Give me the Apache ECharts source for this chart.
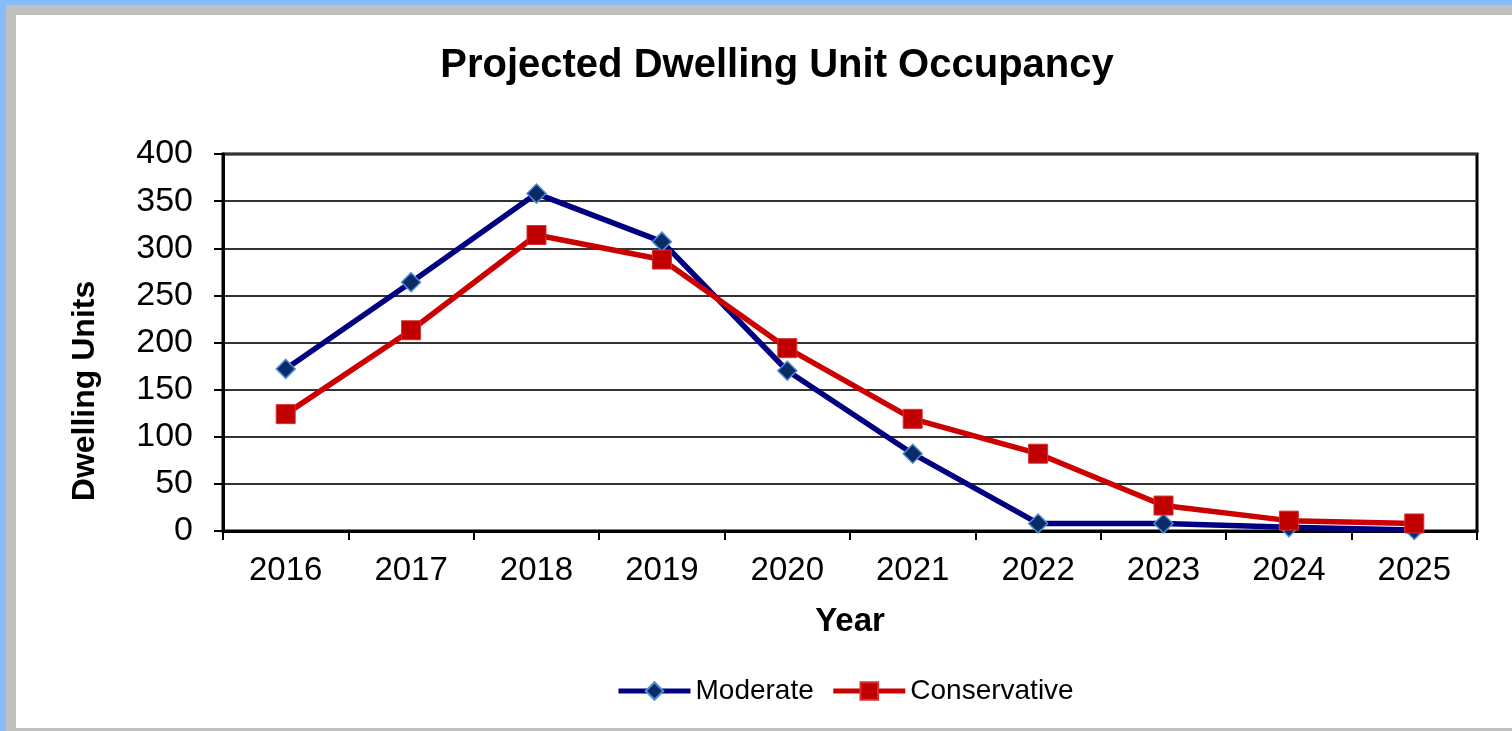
<!DOCTYPE html>
<html>
<head>
<meta charset="utf-8">
<script src="https://cdn.jsdelivr.net/npm/echarts@6/dist/echarts.min.js"></script>
<style>
  html, body { margin: 0; padding: 0; }
  body { width: 1512px; height: 731px; background: #86bcf8; position: relative; overflow: hidden; }
  #frame { position: absolute; left: 6px; top: 5px; width: 1506px; height: 726px; background: #c0c0c0; }
  #chart { position: absolute; left: 16px; top: 15px; width: 1496px; height: 713px; background: #fff; }
</style>
</head>
<body>
<div id="frame"></div>
<div id="chart"></div>
<script>
var years = ['2016', '2017', '2018', '2019', '2020', '2021', '2022', '2023', '2024', '2025'];
var moderate = [172, 264, 358, 307, 170, 82, 8, 8, 4, 1];
var conservative = [124, 213, 314, 288, 194, 119, 82, 27, 11, 8];
var yTicks = { min: 0, max: 400, interval: 50 };

var dom = document.getElementById('chart');
var myChart = echarts.init(dom);
var font = '"Liberation Sans", Arial, sans-serif';

var option = {
    animation: false,
    title: {
        text: 'Projected Dwelling Unit Occupancy',
        left: 756,
        top: 26,
        textAlign: 'center',
        textStyle: { fontFamily: font, fontSize: 40, fontWeight: 'bold', color: '#000' }
    },
    legend: {
        left: 595,
        top: 657,
        itemWidth: 72,
        itemHeight: 22,
        itemGap: 17,
        lineStyle: { width: 5 },
        textStyle: { fontFamily: font, fontSize: 28, color: '#000' },
        data: ['Moderate', 'Conservative']
    },
    graphic: [{
        type: 'text',
        x: 69,
        y: 376,
        rotation: Math.PI / 2,
        style: {
            text: 'Dwelling Units',
            fontFamily: font,
            fontSize: 32,
            fontWeight: 'bold',
            fill: '#000',
            textAlign: 'center',
            textVerticalAlign: 'middle'
        }
    }],
    grid: {
        left: 207,
        top: 139,
        width: 1254,
        height: 377,
        show: true,
        borderColor: '#000',
        borderWidth: 3
    },
    xAxis: {
        type: 'category',
        data: years,
        boundaryGap: true,
        name: 'Year',
        nameLocation: 'middle',
        nameGap: 74,
        nameTextStyle: { fontFamily: font, fontSize: 33, fontWeight: 'bold', color: '#000' },
        axisLine: { lineStyle: { color: '#000', width: 3 } },
        axisTick: { show: true, length: 9, lineStyle: { color: '#000', width: 2 } },
        axisLabel: { fontFamily: font, fontSize: 33, color: '#000', margin: 23 }
    },
    yAxis: {
        type: 'value',
        min: yTicks.min,
        max: yTicks.max,
        interval: yTicks.interval,
        axisLine: { show: true, lineStyle: { color: '#000', width: 3 } },
        axisTick: { show: true, length: 9, lineStyle: { color: '#000', width: 2 } },
        axisLabel: { fontFamily: font, fontSize: 34, color: '#000', margin: 30 },
        splitLine: { lineStyle: { color: '#333', width: 2 } }
    },
    series: [{
        name: 'Moderate',
        type: 'line',
        data: moderate,
        symbol: 'diamond',
        symbolSize: 19,
        lineStyle: { color: '#000080', width: 5.5 },
        itemStyle: { color: '#0b2a66', borderColor: '#4f8fd6', borderWidth: 1.5 },
        z: 3
    }, {
        name: 'Conservative',
        type: 'line',
        data: conservative,
        symbol: 'rect',
        symbolSize: 19,
        lineStyle: { color: '#cc0000', width: 5.5 },
        itemStyle: { color: '#c00000', borderColor: '#d83030', borderWidth: 1 },
        z: 4
    }]
};

if (option && typeof option === 'object') {
    myChart.setOption(option, true);
}
</script>
</body>
</html>
